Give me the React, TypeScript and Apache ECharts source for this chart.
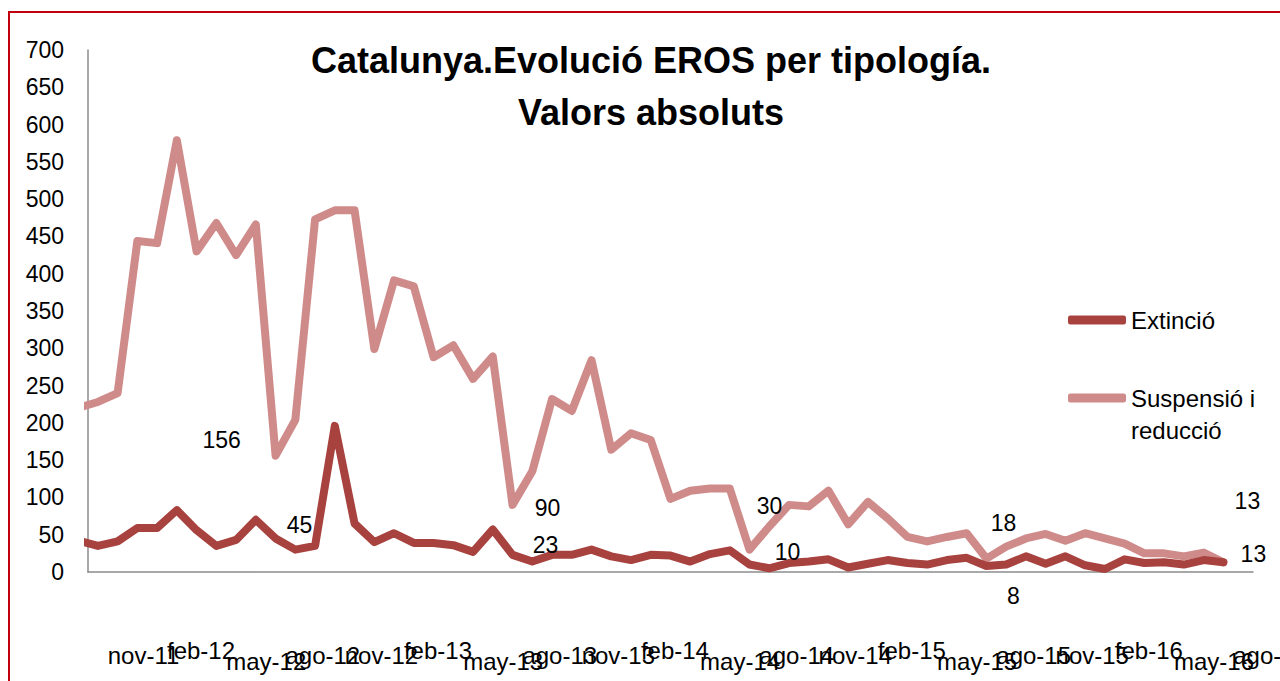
import { useEffect, useRef } from "react";
import * as echarts from "echarts";

// Months (oct-11 .. ago-16)
const months = [
  "oct-11", "nov-11", "dic-11",
  "ene-12", "feb-12", "mar-12", "abr-12", "may-12", "jun-12", "jul-12", "ago-12", "sep-12", "oct-12", "nov-12", "dic-12",
  "ene-13", "feb-13", "mar-13", "abr-13", "may-13", "jun-13", "jul-13", "ago-13", "sep-13", "oct-13", "nov-13", "dic-13",
  "ene-14", "feb-14", "mar-14", "abr-14", "may-14", "jun-14", "jul-14", "ago-14", "sep-14", "oct-14", "nov-14", "dic-14",
  "ene-15", "feb-15", "mar-15", "abr-15", "may-15", "jun-15", "jul-15", "ago-15", "sep-15", "oct-15", "nov-15", "dic-15",
  "ene-16", "feb-16", "mar-16", "abr-16", "may-16", "jun-16", "jul-16", "ago-16",
];

const extincio = [
  42, 35, 41, 59, 59, 83, 56, 35, 43, 70, 45, 30, 35, 196, 65, 40, 52, 39, 39, 36,
  27, 57, 23, 14, 23, 23, 30, 21, 16, 23, 22, 14, 24, 29, 10, 5, 12, 14, 17, 6,
  11, 16, 12, 10, 16, 19, 8, 10, 21, 11, 21, 9, 4, 17, 12, 13, 10, 16, 13,
];

const suspensio = [
  220, 228, 240, 444, 441, 579, 430, 468, 425, 466, 156, 204, 473, 485, 485, 299, 391, 383, 288, 304,
  259, 289, 90, 135, 232, 216, 284, 164, 186, 177, 98, 109, 112, 112, 30, 61, 90, 88, 109, 64,
  94, 72, 47, 41, 47, 52, 18, 34, 45, 51, 42, 52, 45, 38, 25, 25, 21, 26, 13,
];

// indices of points that carry a data label (each August)
const labelledIdx = [10, 22, 34, 46, 58];

const seriesNames = ["Extinció", "Suspensió i reducció"];

// label offsets (style only)
const extOffsets: Record<number, [number, number]> = {
  10: [24, -13], 22: [33, -10], 34: [38, -13], 46: [27, 30], 58: [30, -8],
};
const suspOffsets: Record<number, [number, number]> = {
  10: [-54, -16], 22: [35, 3], 34: [20, -44], 46: [17, -36], 58: [24, -61],
};

const FONT = '"Liberation Sans", Arial, sans-serif';

function buildData(values: number[], offsets: Record<number, [number, number]>) {
  return values.map((v, k) =>
    labelledIdx.includes(k)
      ? {
          value: [k, v],
          label: {
            show: true,
            position: "inside",
            offset: offsets[k],
            fontSize: 23,
            fontFamily: FONT,
            color: "#000",
          },
        }
      : { value: [k, v] }
  );
}

export default function App() {
  const ref = useRef<HTMLDivElement>(null);

  useEffect(() => {
    document.body.style.overflow = "hidden";
    const chart = echarts.init(ref.current!, null, { renderer: "svg" });
    chart.setOption({
      animation: false,
      backgroundColor: "#fff",
      title: {
        text: "Catalunya.Evolució EROS per tipología.\nValors absoluts",
        left: "center",
        top: 16,
        textStyle: {
          fontFamily: FONT,
          fontWeight: "bold",
          fontSize: 36,
          lineHeight: 52,
          color: "#000",
        },
      },
      legend: {
        orient: "vertical",
        left: 1053,
        top: 286,
        itemWidth: 58,
        itemHeight: 9,
        itemGap: 14,
        icon: "roundRect",
        selectedMode: false,
        textStyle: { fontSize: 24, fontFamily: FONT, color: "#000", lineHeight: 32 },
        formatter: (name: string) =>
          name === seriesNames[1] ? "\nSuspensió i\nreducció" : name,
        data: [{ name: seriesNames[0] }, { name: seriesNames[1] }],
      },
      grid: {
        left: 78,
        top: 37,
        width: 1165,
        height: 522,
        containLabel: false,
        outerBoundsMode: "none",
      },
      xAxis: {
        type: "value",
        min: 0.5,
        max: 59.5,
        interval: 1,
        axisLine: { show: true, lineStyle: { color: "#8c8c8c", width: 1.5 } },
        axisTick: { show: false },
        splitLine: { show: false },
        axisLabel: {
          margin: 66,
          align: "left",
          verticalAlign: "top",
          fontSize: 24,
          fontFamily: FONT,
          color: "#000",
          formatter: (v: number) => {
            const k = Math.round(v - 0.5);
            if (Math.abs(v - 0.5 - k) > 1e-6) return "";
            const m = months[k];
            if (!m || (k - 1) % 3 !== 0) return "";
            const key = m.startsWith("feb") ? "f" : m.startsWith("may") ? "m" : "n";
            return `{${key}|${m}}`;
          },
          rich: {
            f: { fontSize: 24, fontFamily: FONT, color: "#000", padding: [0, 0, 0, 0] },
            n: { fontSize: 24, fontFamily: FONT, color: "#000", padding: [5, 0, 0, 0] },
            m: { fontSize: 24, fontFamily: FONT, color: "#000", padding: [11, 0, 0, 0] },
          },
        },
      },
      yAxis: {
        type: "value",
        min: 0,
        max: 700,
        interval: 50,
        axisLine: { show: true, lineStyle: { color: "#8c8c8c", width: 1.5 } },
        axisTick: { show: false },
        splitLine: { show: false },
        axisLabel: { margin: 24, fontSize: 23, fontFamily: FONT, color: "#000" },
      },
      series: [
        {
          name: seriesNames[0],
          type: "line",
          data: buildData(extincio, extOffsets),
          symbol: "circle",
          symbolSize: 1,
          showAllSymbol: true,
          itemStyle: { color: "#a8423f" },
          lineStyle: { color: "#a8423f", width: 8, cap: "round", join: "round" },
          z: 3,
        },
        {
          name: seriesNames[1],
          type: "line",
          data: buildData(suspensio, suspOffsets),
          symbol: "circle",
          symbolSize: 1,
          showAllSymbol: true,
          itemStyle: { color: "#cf8b8a" },
          lineStyle: { color: "#cf8b8a", width: 8, cap: "round", join: "round" },
          z: 2,
        },
      ],
    });
    return () => chart.dispose();
  }, []);

  return (
    <div style={{ position: "fixed", inset: 0, overflow: "hidden", background: "#fff" }}>
      <div
        style={{
          position: "absolute",
          left: 8,
          top: 11,
          width: 1300,
          height: 720,
          border: "2px solid #c0000c",
          boxSizing: "content-box",
        }}
      >
        <div ref={ref} style={{ width: 1282, height: 700 }} />
      </div>
    </div>
  );
}
